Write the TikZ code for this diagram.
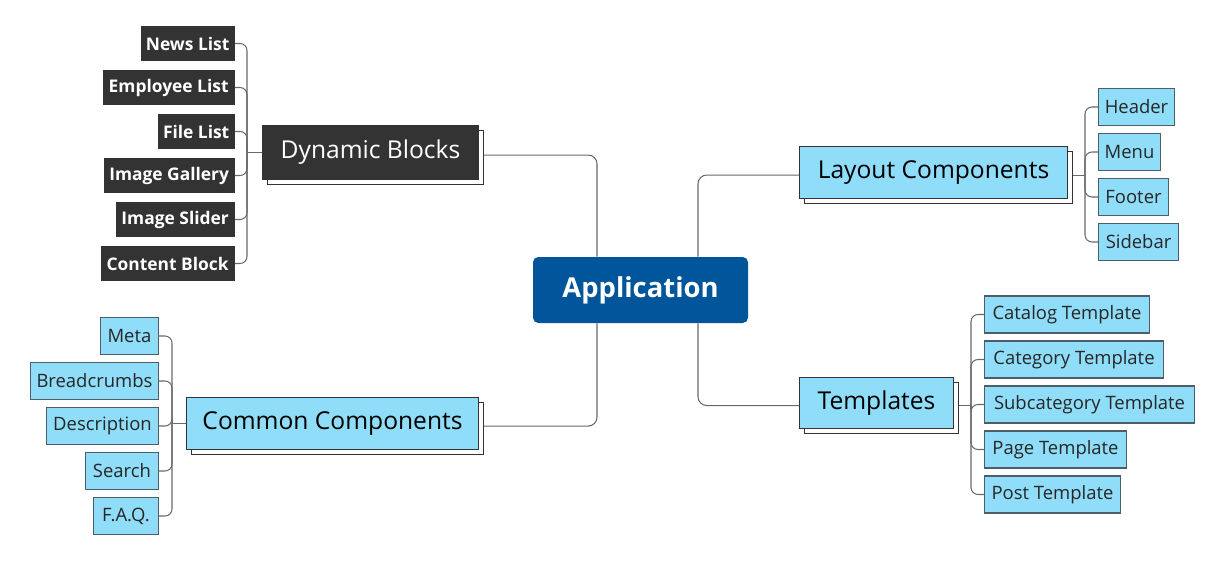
\documentclass[tikz,border=0pt]{standalone}
\usepackage{fontspec}
\setmainfont{Open Sans}
\usetikzlibrary{calc}
\usetikzlibrary{shadows}
\usetikzlibrary{positioning}
\definecolor{leafblue}{RGB}{143,221,248}
\definecolor{leafline}{RGB}{78,94,104}
\definecolor{darkgrey}{RGB}{51,51,51}
\definecolor{linkgrey}{RGB}{105,105,105}
\definecolor{appblue}{RGB}{1,85,155}

\begin{document}
\begin{tikzpicture}[x=0.02cm, y=-0.02cm,
			wh/.style 2 args = {minimum width=#1*0.02cm, minimum height=#2*0.02cm},
			leaf/.style = {draw=leafline, fill=leafblue, line width=0.6pt, inner sep=0pt, text=black!85, font=\fontsize{10.5}{12}\selectfont},
			darkleaf/.style = {draw=none, fill=darkgrey, inner sep=0pt, text=white, font=\fontsize{9.9}{12}\selectfont\bfseries},
			topic/.style = {draw=black!80, fill=leafblue, line width=0.6pt, inner sep=0pt, text=black, font=\fontsize{14}{17}\selectfont,
				copy shadow={shadow xshift=0.1cm, shadow yshift=-0.1cm, fill=white, draw=black!80, line width=0.6pt}},
			link/.style = {draw=linkgrey, line width=0.6pt}
			]
			\useasboundingbox (0,0) rectangle (1225,561);
			
			% centre
			\node[fill=appblue, rounded corners=3pt, wh={215}{66}, text=white, font=\fontsize{15.6}{18}\selectfont\bfseries] (app) at (640.5,290) {Application};
			\coordinate (lt) at (597,0);
			\coordinate (rt) at (698,0);
			
			% main topics
			\node[topic, fill=darkgrey, text=white, wh={216}{54}, anchor=north west] (dyn) at (262,125) {Dynamic Blocks};
			\node[topic, wh={292}{52}, anchor=north west] (common) at (186,397) {Common Components};
			\node[topic, wh={268}{52}, anchor=north west] (layout) at (799,146) {Layout Components};
			\node[topic, wh={154}{51}, anchor=north west] (tmpl) at (799,377) {Templates};
			
			\draw[link, rounded corners=5] ($(dyn.east)+(5,2.5)$) -| (app.north -| lt);
			\draw[link, rounded corners=5] (app.south -| lt) |- ($(common.east)+(5,2.5)$);
			\draw[link, rounded corners=5] (app.north -| rt) |- ($(layout.west)+(0,2.5)$);
			\draw[link, rounded corners=5] (app.south -| rt) |- ($(tmpl.west)+(0,2.5)$);
			
			% dynamic blocks
			\node[darkleaf, wh={94}{35}, anchor=east] (news) at (235,43.5) {News List};
			\node[darkleaf, wh={132}{35}, anchor=east] (empl) at (235,87.5) {Employee List};
			\node[darkleaf, wh={77}{35}, anchor=east] (file) at (235,131.5) {File List};
			\node[darkleaf, wh={131}{35}, anchor=east] (gallery) at (235,175.5) {Image Gallery};
			\node[darkleaf, wh={119}{35}, anchor=east] (slider) at (235,219.5) {Image Slider};
			\node[darkleaf, wh={134}{35}, anchor=east] (content) at (235,263.5) {Content Block};
			\coordinate (dbus) at (247,0);
			\draw[link] (dyn.west) -- (dyn.west -| dbus);
			\foreach \n in {news,empl,file,gallery,slider,content}
				\draw[link, rounded corners=4] (dyn.west -| dbus) |- (\n.east);
			
			% common components
			\node[leaf, wh={58}{37}, anchor=east] (meta) at (159,336) {Meta};
			\node[leaf, wh={128}{37}, anchor=east] (crumbs) at (159,381) {Breadcrumbs};
			\node[leaf, wh={112}{37}, anchor=east] (descr) at (159,426) {Description};
			\node[leaf, wh={73}{37}, anchor=east] (search) at (159,471) {Search};
			\node[leaf, wh={65}{37}, anchor=east] (faq) at (159,516) {F.A.Q.};
			\coordinate (cbus) at (172,0);
			\draw[link] (common.west) -- (common.west -| cbus);
			\foreach \n in {meta,crumbs,descr,search,faq}
				\draw[link, rounded corners=4] (common.west -| cbus) |- (\n.east);
			
			% layout components
			\node[leaf, wh={76}{37}, anchor=west] (header) at (1098,107) {Header};
			\node[leaf, wh={62}{37}, anchor=west] (menu) at (1098,152) {Menu};
			\node[leaf, wh={70}{37}, anchor=west] (footer) at (1098,197) {Footer};
			\node[leaf, wh={80}{37}, anchor=west] (sidebar) at (1098,242) {Sidebar};
			\coordinate (lbus) at (1085,0);
			\draw[link] ($(layout.east)+(5,2.5)$) -- ($(layout.east -| lbus)+(0,2.5)$);
			\foreach \n in {header,menu,footer,sidebar}
				\draw[link, rounded corners=4] ($(layout.east -| lbus)+(0,2.5)$) |- (\n.west);
			
			% templates
			\node[leaf, wh={165}{37}, anchor=west] (catalog) at (984,314.5) {Catalog Template};
			\node[leaf, wh={179}{37}, anchor=west] (category) at (984,359.5) {Category Template};
			\node[leaf, wh={210}{37}, anchor=west] (subcat) at (984,404.5) {Subcategory Template};
			\node[leaf, wh={142}{37}, anchor=west] (page) at (984,449.5) {Page Template};
			\node[leaf, wh={136}{37}, anchor=west] (post) at (984,494.5) {Post Template};
			\coordinate (tbus) at (971,0);
			\draw[link] ($(tmpl.east)+(5,2.5)$) -- ($(tmpl.east -| tbus)+(0,2.5)$);
			\foreach \n in {catalog,category,subcat,page,post}
				\draw[link, rounded corners=4] ($(tmpl.east -| tbus)+(0,2.5)$) |- (\n.west);
		\end{tikzpicture}
\end{document}
